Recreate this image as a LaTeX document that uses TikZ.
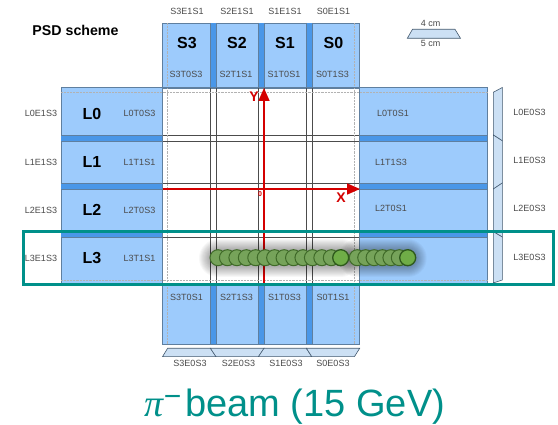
\documentclass[tikz,border=0pt]{standalone}
\usepackage{fontspec}
\setmainfont{Liberation Sans}
\newfontfamily\pifont{Liberation Serif}
\usetikzlibrary{arrows.meta}
\definecolor{psdblue}{HTML}{9DCBFC}
\definecolor{psddark}{HTML}{4A97E8}
\definecolor{psdedge}{HTML}{5F7F9F}
\definecolor{trap}{HTML}{CCE0F4}
\definecolor{teal1}{HTML}{00908A}
\definecolor{lab}{HTML}{4A4A4A}
\definecolor{redax}{HTML}{D40000}
\definecolor{ballfill}{HTML}{76A35A}
\definecolor{balledge}{HTML}{3F6A28}
\definecolor{ballfront}{HTML}{6FAD47}
\definecolor{ballfrontedge}{HTML}{2E5A1C}
\tikzset{
  x=1pt,y=-1pt,
  tile/.style={fill=psdblue,draw=psdedge,line width=.7pt},
  strip/.style={fill=psddark,draw=none},
  grid/.style={draw=black!70,line width=.55pt},
  dots/.style={draw=black!30,line width=.45pt,densely dotted},
  trapz/.style={fill=trap,draw=psdedge!70!black,line width=.6pt},
  lbl/.style={font=\fontsize{9}{10}\selectfont,text=lab,inner sep=0pt},
  big/.style={font=\fontsize{16}{18}\selectfont\bfseries,inner sep=0pt},
  ax/.style={draw=redax,line width=1.7pt,-{Triangle[length=13pt,width=11pt]}},
  axl/.style={text=redax,inner sep=0pt,font=\fontsize{14}{15}\selectfont\bfseries},
  ball/.style={circle,minimum size=16pt,inner sep=0pt,fill=ballfill,draw=balledge,line width=1pt},
  ballfirst/.style={ball,fill=ballfront,draw=ballfrontedge,line width=1.3pt},
  glow/.style={draw=black,line cap=round,opacity=.03},
}
\begin{document}
\begin{tikzpicture}
\useasboundingbox (0,0) rectangle (558,425);
\fill[white] (0,0) rectangle (558,425);
% tiles
\draw[tile] (162.5,23) rectangle (359.7,88);
\draw[tile] (162.5,283) rectangle (359.7,344);
\draw[tile] (61,87.5) rectangle (162.5,283);
\draw[tile] (359.7,87.5) rectangle (487.7,283);
% strips
\foreach \a/\b in {210.4/216,258.4/264,306.4/311.8}{
  \fill[strip] (\a,23.5) rectangle (\b,88);
  \fill[strip] (\a,283) rectangle (\b,344);
}
\foreach \a/\b in {135/140.8,183/189,231.7/237}{
  \fill[strip] (61.4,\a) rectangle (162.5,\b);
  \fill[strip] (359.7,\a) rectangle (487.4,\b);
}
% grid
\foreach \xx in {210.4,216,258.4,264,306.4,311.8}{
  \draw[grid] (\xx,88) -- (\xx,283);
  \draw[psdedge,line width=.5pt] (\xx,23) -- (\xx,88) (\xx,283) -- (\xx,344);
}
\foreach \yy in {135,140.8,183,189,231.7,237}{
  \draw[grid] (162.5,\yy) -- (359.7,\yy);
  \draw[psdedge,line width=.5pt] (61,\yy) -- (162.5,\yy) (359.7,\yy) -- (487.7,\yy);
}
\draw[dots] (167.6,23) -- (167.6,344) (354.4,23) -- (354.4,344);
\draw[dots] (61,92.3) -- (487.7,92.3) (61,280) -- (487.7,280);
\draw[tile,fill=none] (162.5,87.5) rectangle (359.7,283);
% right trapezoids
\draw[trapz] (493.3,92.3) -- (502.3,87.5) -- (502.3,140.8) -- (493.3,135) -- cycle;
\draw[trapz] (493.3,135) -- (502.3,140.8) -- (502.3,183) -- (493.3,189) -- cycle;
\draw[trapz] (493.3,189) -- (502.3,183) -- (502.3,237) -- (493.3,231.7) -- cycle;
\draw[trapz] (493.3,231.7) -- (502.3,237) -- (502.3,280) -- (493.3,283) -- cycle;
% bottom trapezoids
\draw[trapz] (162.5,356.7) -- (167.6,348.3) -- (210.4,348.3) -- (216,356.7) -- cycle;
\draw[trapz] (216,356.7) -- (210.4,348.3) -- (264,348.3) -- (258.4,356.7) -- cycle;
\draw[trapz] (258.4,356.7) -- (264,348.3) -- (306.4,348.3) -- (311.8,356.7) -- cycle;
\draw[trapz] (311.8,356.7) -- (306.4,348.3) -- (359.7,348.3) -- (354.4,356.7) -- cycle;
% legend
\draw[trapz] (407.3,38.3) -- (412.5,29.3) -- (455,29.3) -- (460.5,38.3) -- cycle;
\node[lbl] (c4) at (430.7,23) {4 cm};
\node[lbl] (c5) at (430.7,43.5) {5 cm};
% axes
\coordinate (ys) at (264,283);
\coordinate (ye) at (264,88);
\coordinate (xs) at (162.5,189);
\coordinate (xe) at (360,189);
\draw[ax] (ys) -- (ye);
\draw[ax] (xs) -- (xe);
\node[axl] (ylab) at (254,97) {Y};
\node[axl] (xlab) at (341,198) {X};
\node[text=redax,inner sep=0pt,font=\fontsize{7}{8}\selectfont\bfseries] (zero) at (260,194.5) {0};
% glow behind the balls
\foreach \w in {16,18,20,22,24,26,28,30,32,34,36,38}{
  \draw[glow,line width=\w pt] (218,258.5) -- (340.7,258.5);
  \draw[glow,line width=\w pt] (357.3,258.5) -- (407.7,258.5);
}
% balls
\foreach \i in {0,...,12}{
  \node[ball] at (218+\i*9.44,257.7) {};
}
\node[ballfirst] (ba) at (340.7,257.7) {};
\foreach \i in {0,...,5}{
  \node[ball] at (357.3+\i*8.4,257.7) {};
}
\node[ballfirst] (bb) at (407.7,257.7) {};
% teal frame
\draw[teal1,line width=3.3pt] (23.7,231.5) rectangle (553.2,284.6);
% labels
\node[font=\fontsize{14.2}{16}\selectfont\bfseries,inner sep=0pt] (title) at (75.5,30.5) {PSD scheme};
\foreach \n/\t/\e/\b/\xa in {S3/S3T0S3/S3E1S1/S3T0S1/187, S2/S2T1S1/S2E1S1/S2T1S3/237, S1/S1T0S1/S1E1S1/S1T0S3/285, S0/S0T1S3/S0E1S1/S0T1S1/333.5}{
  \node[big] (n\n) at (\xa,43) {\n};
  \node[lbl] (t\n) at (\xa-1,74.5) {\t};
  \node[lbl] (e\n) at (\xa,11.5) {\e};
  \node[lbl] (b\n) at (\xa-.5,297.5) {\b};
}
\node[lbl] (b1) at (190,363.7) {S3E0S3};
\node[lbl] (b2) at (238.5,363.7) {S2E0S3};
\node[lbl] (b3) at (286,363.7) {S1E0S3};
\node[lbl] (b4) at (333,363.7) {S0E0S3};
\foreach \n/\e/\t/\rr/\yy in {L0/L0E1S3/L0T0S3/L0E0S3/113.5, L1/L1E1S3/L1T1S1/L1E0S3/162, L2/L2E1S3/L2T0S3/L2E0S3/210, L3/L3E1S3/L3T1S1/L3E0S3/258.5}{
  \node[big] (n\n) at (92,\yy) {\n};
  \node[lbl] (e\n) at (41,\yy) {\e};
  \node[lbl] (t\n) at (139.5,\yy) {\t};
  \node[lbl] (r\n) at (529.5,\yy-1.5) {\rr};
}
\node[lbl] (r0) at (393,113.5) {L0T0S1};
\node[lbl] (r1) at (391,162) {L1T1S3};
\node[lbl] (r2) at (391,208) {L2T0S1};
\node[text=teal1,inner sep=0pt,anchor=base,font=\fontsize{38}{40}\selectfont] (beam) at (295,417) {{\pifont\itshape π}\raisebox{10pt}{\fontsize{30}{30}\selectfont −}\kern4pt beam (15 GeV)};
\end{tikzpicture}
\end{document}
